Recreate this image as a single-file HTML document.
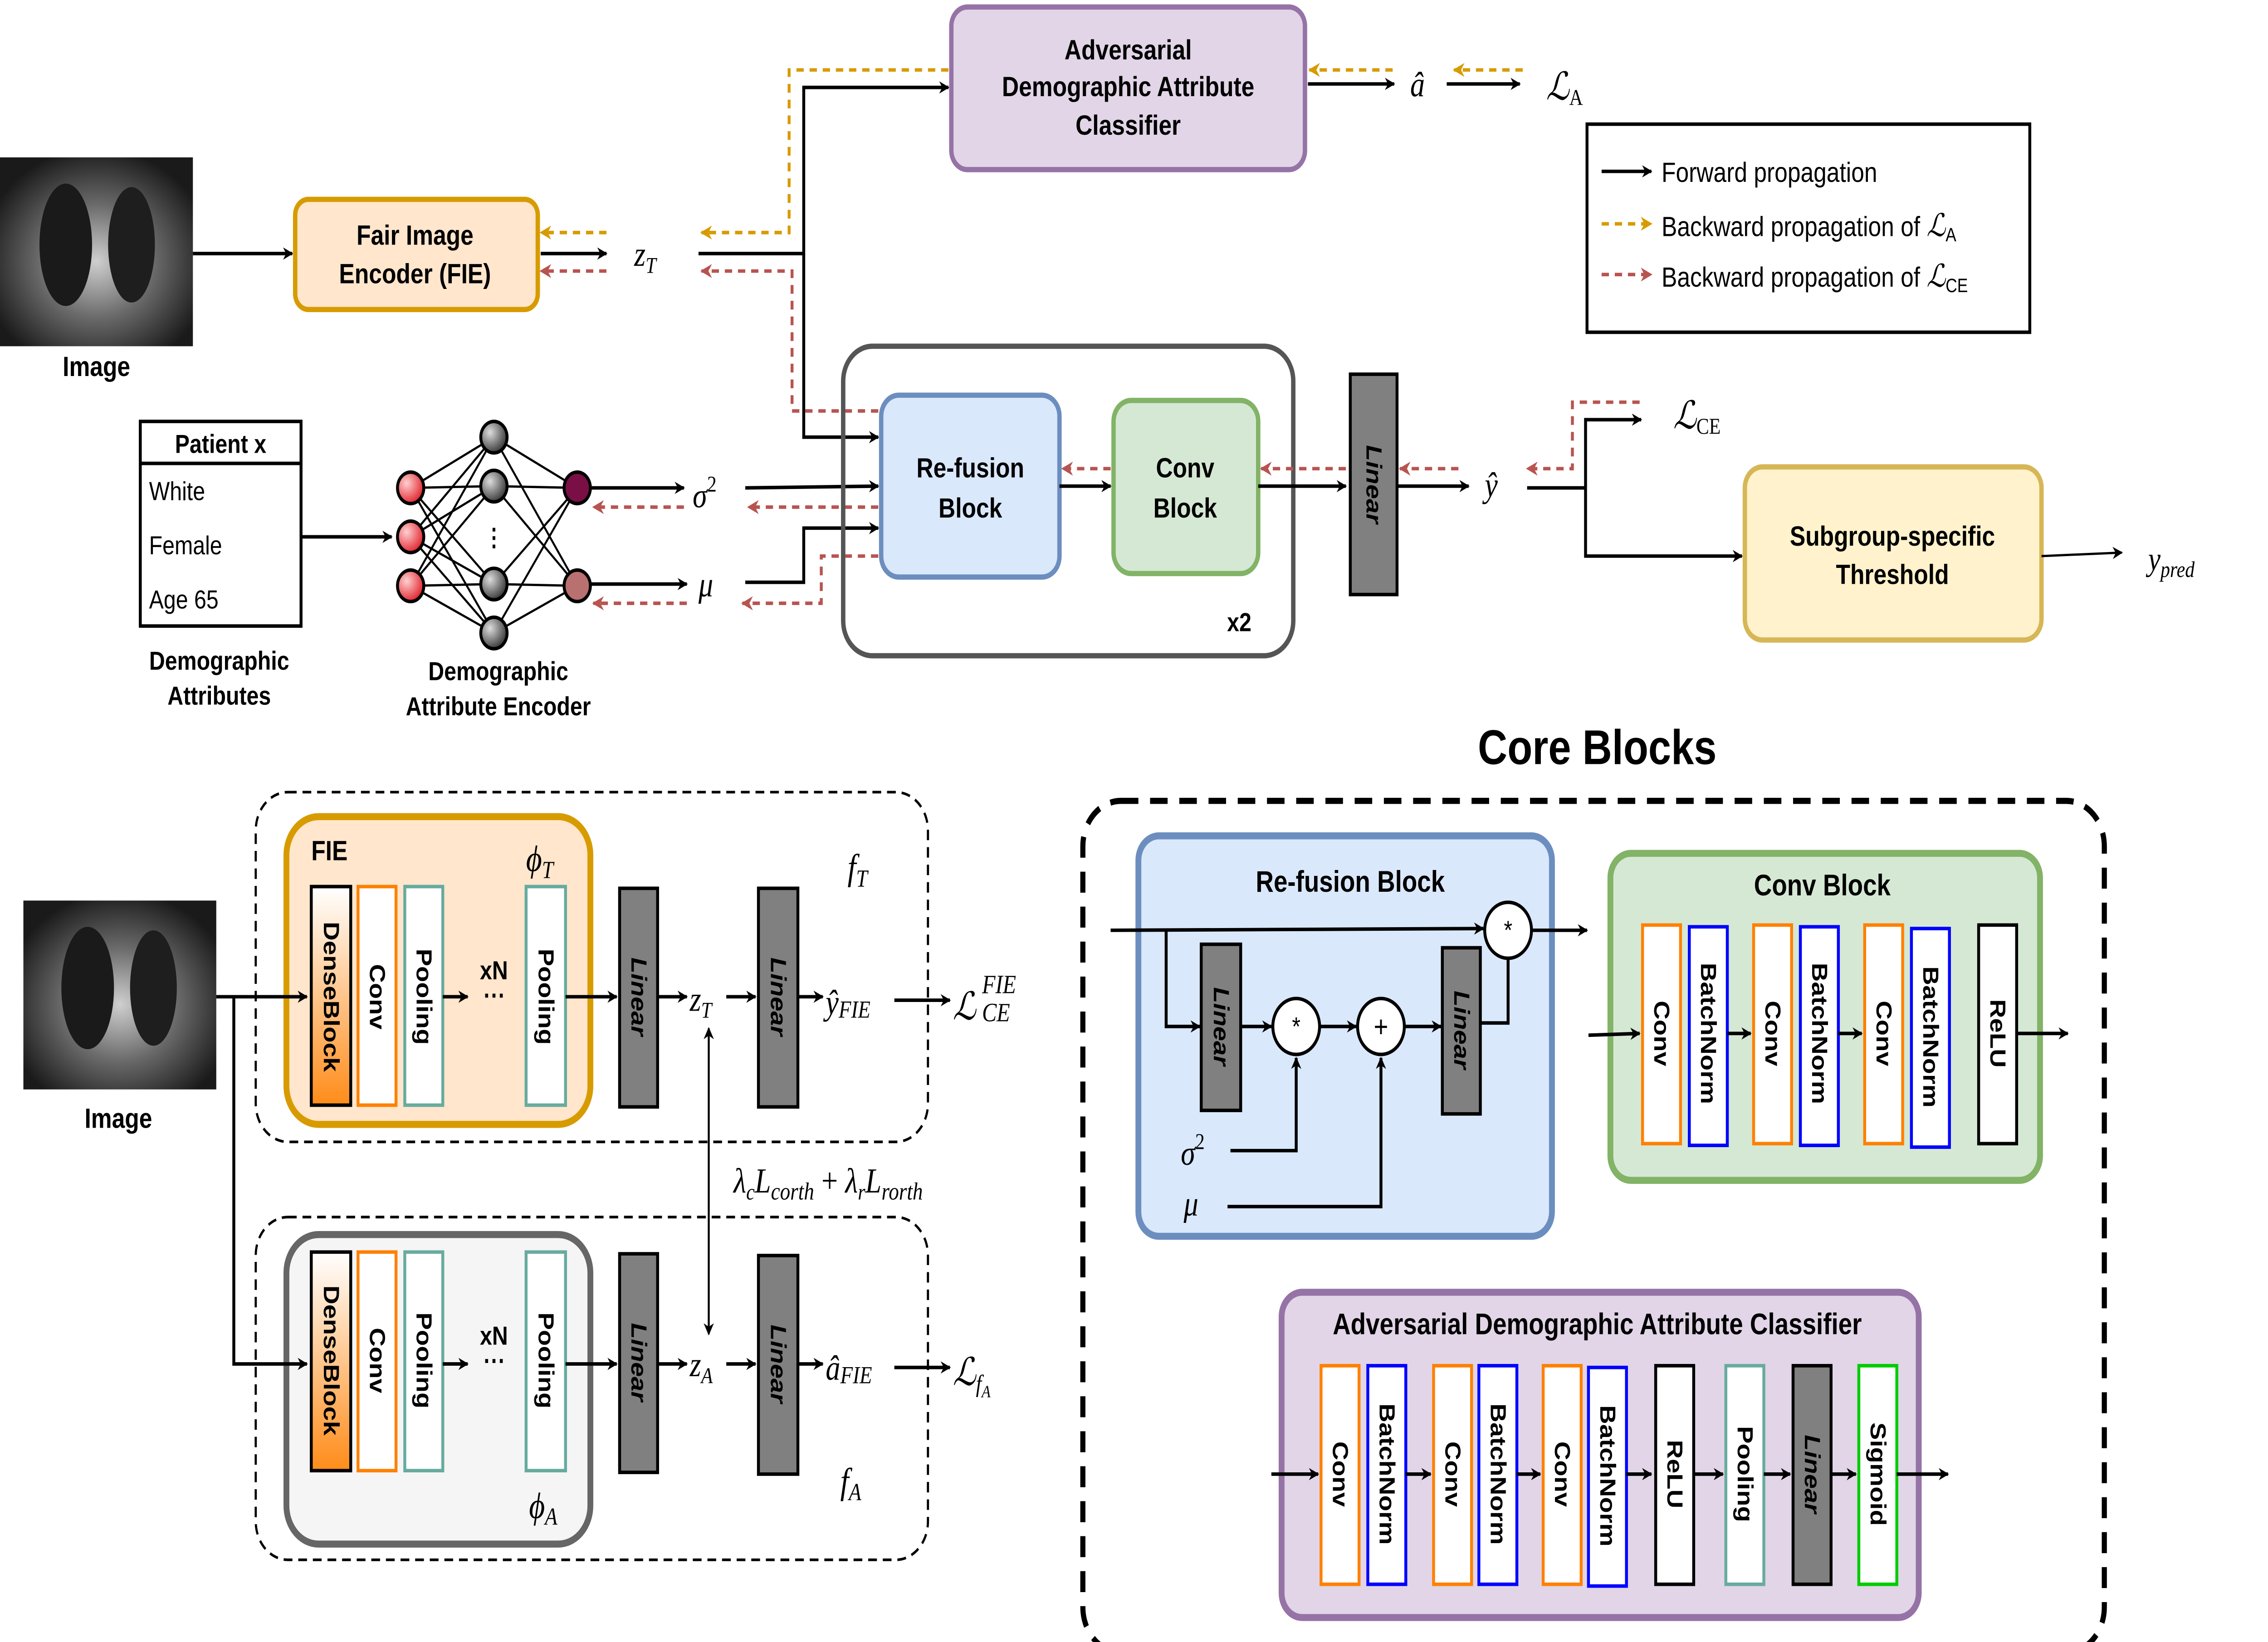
<!DOCTYPE html>
<html><head><meta charset="utf-8"><style>
html,body{margin:0;padding:0;background:#fff;width:100%;height:100%;overflow:hidden}
svg{display:block;width:100vw;height:100vh}
.b{font-family:"Liberation Sans",sans-serif;font-weight:bold;fill:#000}
.n{font-family:"Liberation Sans",sans-serif;fill:#000}
.m{font-family:"Liberation Serif",serif;font-style:italic;fill:#000}
.r{font-family:"Liberation Sans",sans-serif;font-weight:bold;font-size:15px;fill:#000}
</style></head><body>
<svg viewBox="0 0 1552 939" preserveAspectRatio="none" xmlns="http://www.w3.org/2000/svg">
<defs>
<marker id="ak" viewBox="0 0 10 10" refX="9" refY="5" markerWidth="7" markerHeight="7" orient="auto" markerUnits="userSpaceOnUse"><path d="M0,0 L10,5 L0,10 L3,5z" fill="#000"/></marker>
<marker id="ao" viewBox="0 0 10 10" refX="9" refY="5" markerWidth="8" markerHeight="8" orient="auto" markerUnits="userSpaceOnUse"><path d="M0,0 L10,5 L0,10 L3,5z" fill="#d79b00"/></marker>
<marker id="ar" viewBox="0 0 10 10" refX="9" refY="5" markerWidth="8" markerHeight="8" orient="auto" markerUnits="userSpaceOnUse"><path d="M0,0 L10,5 L0,10 L3,5z" fill="#b85450"/></marker>
<radialGradient id="xr" cx="50%" cy="55%" r="60%"><stop offset="0" stop-color="#cfcfcf"/><stop offset="0.5" stop-color="#6a6a6a"/><stop offset="1" stop-color="#1a1a1a"/></radialGradient>
<linearGradient id="db" x1="0" y1="0" x2="0" y2="1"><stop offset="0" stop-color="#fff"/><stop offset="1" stop-color="#ff8c1a"/></linearGradient>
<radialGradient id="rn" cx="35%" cy="35%" r="70%"><stop offset="0" stop-color="#ffd0d0"/><stop offset="1" stop-color="#e0202a"/></radialGradient>
<radialGradient id="gn" cx="35%" cy="35%" r="70%"><stop offset="0" stop-color="#ddd"/><stop offset="1" stop-color="#333"/></radialGradient>
</defs>
<g stroke-width="2" fill="none">

<!-- X-ray top -->
<rect x="0" y="90" width="132" height="108" fill="url(#xr)" stroke="none"/>
<ellipse cx="45" cy="140" rx="18" ry="35" fill="#1a1a1a" stroke="none"/>
<ellipse cx="90" cy="140" rx="16" ry="33" fill="#1e1e1e" stroke="none"/>
<text x="66" y="215" class="b" font-size="16" text-anchor="middle" stroke="none">Image</text>
<path d="M132,145 L200,145" stroke="#000" marker-end="url(#ak)"/>

<!-- FIE -->
<rect x="202" y="114" width="166" height="63" rx="9" fill="#ffe6cc" stroke="#d79b00" stroke-width="3"/>
<text x="284" y="140" class="b" font-size="16" text-anchor="middle" stroke="none">Fair Image</text>
<text x="284" y="162" class="b" font-size="16" text-anchor="middle" stroke="none">Encoder (FIE)</text>
<path d="M370,145 L415,145" stroke="#000" marker-end="url(#ak)"/>
<path d="M415,133 L370,133" stroke="#d79b00" stroke-dasharray="5,4" marker-end="url(#ao)"/>
<path d="M415,155 L370,155" stroke="#b85450" stroke-dasharray="5,4" marker-end="url(#ar)"/>
<text x="434" y="152" class="m" font-size="20" stroke="none">z<tspan font-size="13" dy="4">T</tspan></text>

<path d="M478,145 L550,145 L550,50 L649,50" stroke="#000" marker-end="url(#ak)"/>
<path d="M550,145 L550,250 L601,250" stroke="#000" marker-end="url(#ak)"/>
<path d="M649,40 L540,40 L540,133 L480,133" stroke="#d79b00" stroke-dasharray="5,4" marker-end="url(#ao)"/>
<path d="M601,235 L542,235 L542,155 L480,155" stroke="#b85450" stroke-dasharray="5,4" marker-end="url(#ar)"/>

<!-- Adversarial -->
<rect x="651" y="4" width="242" height="93" rx="11" fill="#e1d5e7" stroke="#9673a6" stroke-width="3"/>
<text x="772" y="34" class="b" font-size="16" text-anchor="middle" stroke="none">Adversarial</text>
<text x="772" y="55" class="b" font-size="16" text-anchor="middle" stroke="none">Demographic Attribute</text>
<text x="772" y="77" class="b" font-size="16" text-anchor="middle" stroke="none">Classifier</text>
<path d="M895,48 L954,48" stroke="#000" marker-end="url(#ak)"/>
<path d="M953,40 L896,40" stroke="#d79b00" stroke-dasharray="5,4" marker-end="url(#ao)"/>
<text x="965" y="55" class="m" font-size="20" stroke="none">â</text>
<path d="M990,48 L1040,48" stroke="#000" marker-end="url(#ak)"/>
<path d="M1042,40 L995,40" stroke="#d79b00" stroke-dasharray="5,4" marker-end="url(#ao)"/>
<text x="1058" y="57" class="m" font-size="22" stroke="none">ℒ<tspan font-style="normal" font-size="13" dy="3">A</tspan></text>

<!-- Legend -->
<rect x="1086" y="71" width="303" height="119" fill="#fff" stroke="#000"/>
<path d="M1096,98 L1130,98" stroke="#000" marker-end="url(#ak)"/>
<text x="1137" y="104" class="n" font-size="16" stroke="none">Forward propagation</text>
<path d="M1096,128 L1130,128" stroke="#d79b00" stroke-dasharray="5,4" marker-end="url(#ao)"/>
<text x="1137" y="135" class="n" font-size="16" stroke="none">Backward propagation of  <tspan class="m" font-size="18">ℒ</tspan><tspan font-size="11" dy="3">A</tspan></text>
<path d="M1096,157 L1130,157" stroke="#b85450" stroke-dasharray="5,4" marker-end="url(#ar)"/>
<text x="1137" y="164" class="n" font-size="16" stroke="none">Backward propagation of  <tspan class="m" font-size="18">ℒ</tspan><tspan font-size="11" dy="3">CE</tspan></text>

<!-- Patient table -->
<rect x="96" y="241" width="110" height="117" fill="#fff" stroke="#000"/>
<path d="M96,265 L206,265" stroke="#000"/>
<text x="151" y="259" class="b" font-size="15" text-anchor="middle" stroke="none">Patient x</text>
<text x="102" y="286" class="n" font-size="15" stroke="none">White</text>
<text x="102" y="317" class="n" font-size="15" stroke="none">Female</text>
<text x="102" y="348" class="n" font-size="15" stroke="none">Age 65</text>
<text x="150" y="383" class="b" font-size="15" text-anchor="middle" stroke="none">Demographic</text>
<text x="150" y="403" class="b" font-size="15" text-anchor="middle" stroke="none">Attributes</text>
<path d="M206,307 L268,307" stroke="#000" marker-end="url(#ak)"/>

<!-- NN -->
<g stroke="#000" stroke-width="1.3">
<path d="M281,279 L338,250 M281,279 L338,278 M281,279 L338,334 M281,279 L338,362 M281,307 L338,250 M281,307 L338,278 M281,307 L338,334 M281,307 L338,362 M281,335 L338,250 M281,335 L338,278 M281,335 L338,334 M281,335 L338,362"/>
<path d="M338,250 L395,279 M338,278 L395,279 M338,334 L395,279 M338,362 L395,279 M338,250 L395,335 M338,278 L395,335 M338,334 L395,335 M338,362 L395,335"/>
</g>
<circle cx="281" cy="279" r="9" fill="url(#rn)" stroke="#000"/>
<circle cx="281" cy="307" r="9" fill="url(#rn)" stroke="#000"/>
<circle cx="281" cy="335" r="9" fill="url(#rn)" stroke="#000"/>
<circle cx="338" cy="250" r="9" fill="url(#gn)" stroke="#000"/>
<circle cx="338" cy="278" r="9" fill="url(#gn)" stroke="#000"/>
<circle cx="338" cy="334" r="9" fill="url(#gn)" stroke="#000"/>
<circle cx="338" cy="362" r="9" fill="url(#gn)" stroke="#000"/>
<text x="338" y="312" class="b" font-size="14" text-anchor="middle" stroke="none">⋮</text>
<circle cx="395" cy="279" r="9" fill="#7a0f45" stroke="#000"/>
<circle cx="395" cy="335" r="9" fill="#b87070" stroke="#000"/>
<text x="341" y="389" class="b" font-size="15" text-anchor="middle" stroke="none">Demographic</text>
<text x="341" y="409" class="b" font-size="15" text-anchor="middle" stroke="none">Attribute Encoder</text>
<path d="M404,279 L468,279" stroke="#000" marker-end="url(#ak)"/>
<path d="M468,290 L406,290" stroke="#b85450" stroke-dasharray="5,4" marker-end="url(#ar)"/>
<path d="M404,334 L470,334" stroke="#000" marker-end="url(#ak)"/>
<path d="M470,345 L406,345" stroke="#b85450" stroke-dasharray="5,4" marker-end="url(#ar)"/>
<text x="474" y="290" class="m" font-size="20" stroke="none">σ<tspan font-style="normal" font-size="13" dy="-9">2</tspan></text>
<text x="478" y="341" class="m" font-size="20" stroke="none">μ</text>
<path d="M510,279 L601,278" stroke="#000" marker-end="url(#ak)"/>
<path d="M601,290 L512,290" stroke="#b85450" stroke-dasharray="5,4" marker-end="url(#ar)"/>
<path d="M510,333 L550,333 L550,302 L601,302" stroke="#000" marker-end="url(#ak)"/>
<path d="M601,318 L562,318 L562,345 L508,345" stroke="#b85450" stroke-dasharray="5,4" marker-end="url(#ar)"/>

<!-- x2 container -->
<rect x="577" y="198" width="308" height="177" rx="20" stroke="#555" stroke-width="3"/>
<text x="848" y="361" class="b" font-size="15" text-anchor="middle" stroke="none">x2</text>
<rect x="603" y="226" width="122" height="104" rx="12" fill="#dae8fc" stroke="#6c8ebf" stroke-width="3"/>
<text x="664" y="273" class="b" font-size="16" text-anchor="middle" stroke="none">Re-fusion</text>
<text x="664" y="296" class="b" font-size="16" text-anchor="middle" stroke="none">Block</text>
<rect x="762" y="229" width="99" height="99" rx="12" fill="#d5e8d4" stroke="#82b366" stroke-width="3"/>
<text x="811" y="273" class="b" font-size="16" text-anchor="middle" stroke="none">Conv</text>
<text x="811" y="296" class="b" font-size="16" text-anchor="middle" stroke="none">Block</text>
<path d="M725,278 L760,278" stroke="#000" marker-end="url(#ak)"/>
<path d="M760,268 L727,268" stroke="#b85450" stroke-dasharray="5,4" marker-end="url(#ar)"/>
<path d="M861,278 L921,278" stroke="#000" marker-end="url(#ak)"/>
<path d="M921,268 L863,268" stroke="#b85450" stroke-dasharray="5,4" marker-end="url(#ar)"/>
<rect x="924" y="214" width="32" height="126" fill="#808080" stroke="#000"/>
<text transform="translate(940,277) rotate(90)" class="r" font-style="italic" text-anchor="middle" dominant-baseline="central" stroke="none">Linear</text>
<path d="M956,278 L1005,278" stroke="#000" marker-end="url(#ak)"/>
<path d="M998,268 L958,268" stroke="#b85450" stroke-dasharray="5,4" marker-end="url(#ar)"/>
<text x="1016" y="284" class="m" font-size="20" stroke="none">ŷ</text>
<path d="M1045,279 L1085,279" stroke="#000"/>
<path d="M1085,279 L1085,240 L1123,240" stroke="#000" marker-end="url(#ak)"/>
<path d="M1085,279 L1085,318 L1192,318" stroke="#000" marker-end="url(#ak)"/>
<path d="M1122,230 L1076,230 L1076,268 L1045,268" stroke="#b85450" stroke-dasharray="5,4" marker-end="url(#ar)"/>
<text x="1145" y="245" class="m" font-size="22" stroke="none">ℒ<tspan font-style="normal" font-size="13" dy="3">CE</tspan></text>
<rect x="1194" y="267" width="203" height="99" rx="12" fill="#fff2cc" stroke="#d6b656" stroke-width="3"/>
<text x="1295" y="312" class="b" font-size="16" text-anchor="middle" stroke="none">Subgroup-specific</text>
<text x="1295" y="334" class="b" font-size="16" text-anchor="middle" stroke="none">Threshold</text>
<path d="M1397,318 L1452,316" stroke="#000" stroke-width="1.3" marker-end="url(#ak)"/>
<text x="1470" y="326" class="m" font-size="19" stroke="none">y<tspan font-size="13" dy="4">pred</tspan></text>

<!-- Bottom-left -->
<rect x="16" y="515" width="132" height="108" fill="url(#xr)" stroke="none"/>
<ellipse cx="60" cy="565" rx="18" ry="35" fill="#1a1a1a" stroke="none"/>
<ellipse cx="105" cy="565" rx="16" ry="33" fill="#1e1e1e" stroke="none"/>
<text x="81" y="645" class="b" font-size="16" text-anchor="middle" stroke="none">Image</text>
<rect x="175" y="453" width="460" height="200" rx="22" stroke="#000" stroke-width="1.5" stroke-dasharray="6,4"/>
<rect x="175" y="696" width="460" height="196" rx="22" stroke="#000" stroke-width="1.5" stroke-dasharray="6,4"/>
<rect x="196" y="467" width="208" height="176" rx="22" fill="#ffe6cc" stroke="#d79b00" stroke-width="4"/>
<rect x="196" y="706" width="208" height="177" rx="22" fill="#f5f5f5" stroke="#666" stroke-width="4"/>
<text x="213" y="492" class="b" font-size="16" stroke="none">FIE</text>
<text x="360" y="498" class="m" font-size="21" stroke="none">ϕ<tspan font-size="14" dy="4">T</tspan></text>
<text x="362" y="868" class="m" font-size="21" stroke="none">ϕ<tspan font-size="14" dy="4">A</tspan></text>
<text x="580" y="503" class="m" font-size="21" stroke="none">f<tspan font-size="14" dy="4">T</tspan></text>
<text x="575" y="854" class="m" font-size="21" stroke="none">f<tspan font-size="14" dy="4">A</tspan></text>
<path d="M148,570 L210,570" stroke="#000" marker-end="url(#ak)"/>
<path d="M160,570 L160,780 L210,780" stroke="#000" marker-end="url(#ak)"/>

<!-- top chain -->
<rect x="213" y="507" width="27" height="125" fill="url(#db)" stroke="#000"/>
<text transform="translate(226.5,570) rotate(90)" class="r" text-anchor="middle" dominant-baseline="central" stroke="none">DenseBlock</text>
<rect x="245" y="507" width="26" height="125" fill="#fff" stroke="#ff8000"/>
<text transform="translate(258,570) rotate(90)" class="r" text-anchor="middle" dominant-baseline="central" stroke="none">Conv</text>
<rect x="277" y="507" width="26" height="125" fill="#fff" stroke="#67ab9f"/>
<text transform="translate(290,570) rotate(90)" class="r" text-anchor="middle" dominant-baseline="central" stroke="none">Pooling</text>
<path d="M303,570 L320,570" stroke="#000" marker-end="url(#ak)"/>
<text x="338" y="560" class="b" font-size="15" text-anchor="middle" stroke="none">xN</text>
<text x="338" y="574" class="b" font-size="15" text-anchor="middle" stroke="none">⋯</text>
<rect x="360" y="507" width="27" height="125" fill="#fff" stroke="#67ab9f"/>
<text transform="translate(373.5,570) rotate(90)" class="r" text-anchor="middle" dominant-baseline="central" stroke="none">Pooling</text>
<path d="M387,570 L422,570" stroke="#000" marker-end="url(#ak)"/>
<rect x="424" y="508" width="26" height="125" fill="#808080" stroke="#000"/>
<text transform="translate(437,570) rotate(90)" class="r" font-style="italic" text-anchor="middle" dominant-baseline="central" stroke="none">Linear</text>
<path d="M450,570 L470,570" stroke="#000" marker-end="url(#ak)"/>
<text x="472" y="578" class="m" font-size="20" stroke="none">z<tspan font-size="13" dy="4">T</tspan></text>
<path d="M497,570 L517,570" stroke="#000" marker-end="url(#ak)"/>
<rect x="519" y="508" width="27" height="125" fill="#808080" stroke="#000"/>
<text transform="translate(532.5,570) rotate(90)" class="r" font-style="italic" text-anchor="middle" dominant-baseline="central" stroke="none">Linear</text>
<path d="M546,570 L563,570" stroke="#000" marker-end="url(#ak)"/>
<text x="565" y="580" class="m" font-size="20" stroke="none">ŷ<tspan font-size="14" dy="2">FIE</tspan></text>
<path d="M612,572 L650,572" stroke="#000" marker-end="url(#ak)"/>
<text x="652" y="583" class="m" font-size="22" stroke="none">ℒ</text>
<text x="672" y="568" class="m" font-size="15" stroke="none">FIE</text>
<text x="672" y="584" class="m" font-size="15" stroke="none">CE</text>

<!-- bottom chain -->
<rect x="213" y="716" width="27" height="125" fill="url(#db)" stroke="#000"/>
<text transform="translate(226.5,778) rotate(90)" class="r" text-anchor="middle" dominant-baseline="central" stroke="none">DenseBlock</text>
<rect x="245" y="716" width="26" height="125" fill="#fff" stroke="#ff8000"/>
<text transform="translate(258,778) rotate(90)" class="r" text-anchor="middle" dominant-baseline="central" stroke="none">Conv</text>
<rect x="277" y="716" width="26" height="125" fill="#fff" stroke="#67ab9f"/>
<text transform="translate(290,778) rotate(90)" class="r" text-anchor="middle" dominant-baseline="central" stroke="none">Pooling</text>
<path d="M303,780 L320,780" stroke="#000" marker-end="url(#ak)"/>
<text x="338" y="769" class="b" font-size="15" text-anchor="middle" stroke="none">xN</text>
<text x="338" y="783" class="b" font-size="15" text-anchor="middle" stroke="none">⋯</text>
<rect x="360" y="716" width="27" height="125" fill="#fff" stroke="#67ab9f"/>
<text transform="translate(373.5,778) rotate(90)" class="r" text-anchor="middle" dominant-baseline="central" stroke="none">Pooling</text>
<path d="M387,780 L422,780" stroke="#000" marker-end="url(#ak)"/>
<rect x="424" y="717" width="26" height="125" fill="#808080" stroke="#000"/>
<text transform="translate(437,779) rotate(90)" class="r" font-style="italic" text-anchor="middle" dominant-baseline="central" stroke="none">Linear</text>
<path d="M450,780 L470,780" stroke="#000" marker-end="url(#ak)"/>
<text x="472" y="787" class="m" font-size="20" stroke="none">z<tspan font-size="13" dy="4">A</tspan></text>
<path d="M497,780 L517,780" stroke="#000" marker-end="url(#ak)"/>
<rect x="519" y="718" width="27" height="125" fill="#808080" stroke="#000"/>
<text transform="translate(532.5,780) rotate(90)" class="r" font-style="italic" text-anchor="middle" dominant-baseline="central" stroke="none">Linear</text>
<path d="M546,780 L563,780" stroke="#000" marker-end="url(#ak)"/>
<text x="565" y="789" class="m" font-size="20" stroke="none">â<tspan font-size="14" dy="2">FIE</tspan></text>
<path d="M612,782 L650,782" stroke="#000" marker-end="url(#ak)"/>
<text x="652" y="792" class="m" font-size="22" stroke="none">ℒ<tspan font-size="14" dy="4">f</tspan><tspan font-size="10" dy="3">A</tspan></text>

<path d="M485,760 L485,588" stroke="#000" stroke-width="1.3" marker-end="url(#ak)"/>
<path d="M485,590 L485,763" stroke="#000" stroke-width="1.3" marker-end="url(#ak)"/>
<text x="502" y="682" class="m" font-size="20" stroke="none">λ<tspan font-size="13" dy="4">c</tspan><tspan dy="-4">L</tspan><tspan font-size="14" dy="4">corth</tspan><tspan dy="-4" font-style="normal"> + </tspan>λ<tspan font-size="13" dy="4">r</tspan><tspan dy="-4">L</tspan><tspan font-size="14" dy="4">rorth</tspan></text>

<!-- Core blocks -->
<text x="1093" y="437" class="b" font-size="28" text-anchor="middle" stroke="none">Core Blocks</text>
<rect x="741" y="458" width="699" height="487" rx="26" stroke="#000" stroke-width="3.5" stroke-dasharray="12,8"/>

<rect x="779" y="478" width="283" height="229" rx="14" fill="#dae8fc" stroke="#6c8ebf" stroke-width="4"/>
<text x="924" y="510" class="b" font-size="17" text-anchor="middle" stroke="none">Re-fusion Block</text>
<path d="M760,532 L1015,531" stroke="#000" marker-end="url(#ak)"/>
<circle cx="1032" cy="532" r="16" fill="#fff" stroke="#000"/>
<text x="1032" y="537" class="n" font-size="15" text-anchor="middle" stroke="none">*</text>
<path d="M1048,532 L1086,532" stroke="#000" marker-end="url(#ak)"/>
<path d="M798,532 L798,587 L821,587" stroke="#000" marker-end="url(#ak)"/>
<rect x="822" y="540" width="27" height="95" fill="#808080" stroke="#000"/>
<text transform="translate(835.5,587) rotate(90)" class="r" font-style="italic" text-anchor="middle" dominant-baseline="central" stroke="none">Linear</text>
<path d="M849,587 L870,587" stroke="#000" marker-end="url(#ak)"/>
<circle cx="887" cy="587" r="16" fill="#fff" stroke="#000"/>
<text x="887" y="592" class="n" font-size="15" text-anchor="middle" stroke="none">*</text>
<path d="M903,587 L928,587" stroke="#000" marker-end="url(#ak)"/>
<circle cx="945" cy="587" r="16" fill="#fff" stroke="#000"/>
<text x="945" y="593" class="n" font-size="17" text-anchor="middle" stroke="none">+</text>
<path d="M961,587 L986,587" stroke="#000" marker-end="url(#ak)"/>
<rect x="987" y="542" width="26" height="95" fill="#808080" stroke="#000"/>
<text transform="translate(1000,589) rotate(90)" class="r" font-style="italic" text-anchor="middle" dominant-baseline="central" stroke="none">Linear</text>
<path d="M1013,585 L1032,585 L1032,549" stroke="#000"/>
<text x="808" y="666" class="m" font-size="20" stroke="none">σ<tspan font-style="normal" font-size="13" dy="-9">2</tspan></text>
<path d="M842,658 L887,658 L887,605" stroke="#000" marker-end="url(#ak)"/>
<text x="810" y="695" class="m" font-size="20" stroke="none">μ</text>
<path d="M840,690 L945,690 L945,605" stroke="#000" marker-end="url(#ak)"/>

<rect x="1102" y="488" width="294" height="187" rx="14" fill="#d5e8d4" stroke="#82b366" stroke-width="4"/>
<text x="1247" y="512" class="b" font-size="17" text-anchor="middle" stroke="none">Conv Block</text>
<path d="M1087,592 L1122,591" stroke="#000" marker-end="url(#ak)"/>
<rect x="1124" y="529" width="26" height="125" fill="#fff" stroke="#ff8000"/>
<text transform="translate(1137,591) rotate(90)" class="r" text-anchor="middle" dominant-baseline="central" stroke="none">Conv</text>
<rect x="1156" y="530" width="26" height="125" fill="#fff" stroke="#0000ff"/>
<text transform="translate(1169,591) rotate(90)" class="r" text-anchor="middle" dominant-baseline="central" stroke="none">BatchNorm</text>
<path d="M1182,591 L1198,591" stroke="#000" marker-end="url(#ak)"/>
<rect x="1200" y="529" width="26" height="125" fill="#fff" stroke="#ff8000"/>
<text transform="translate(1213,591) rotate(90)" class="r" text-anchor="middle" dominant-baseline="central" stroke="none">Conv</text>
<rect x="1232" y="530" width="26" height="125" fill="#fff" stroke="#0000ff"/>
<text transform="translate(1245,591) rotate(90)" class="r" text-anchor="middle" dominant-baseline="central" stroke="none">BatchNorm</text>
<path d="M1258,591 L1274,591" stroke="#000" marker-end="url(#ak)"/>
<rect x="1276" y="529" width="26" height="125" fill="#fff" stroke="#ff8000"/>
<text transform="translate(1289,591) rotate(90)" class="r" text-anchor="middle" dominant-baseline="central" stroke="none">Conv</text>
<rect x="1308" y="531" width="26" height="125" fill="#fff" stroke="#0000ff"/>
<text transform="translate(1321,593) rotate(90)" class="r" text-anchor="middle" dominant-baseline="central" stroke="none">BatchNorm</text>
<rect x="1354" y="529" width="26" height="125" fill="#fff" stroke="#000"/>
<text transform="translate(1367,591) rotate(90)" class="r" text-anchor="middle" dominant-baseline="central" stroke="none">ReLU</text>
<path d="M1380,591 L1415,591" stroke="#000" marker-end="url(#ak)"/>

<rect x="877" y="739" width="436" height="186" rx="14" fill="#e1d5e7" stroke="#9673a6" stroke-width="4"/>
<text x="1093" y="763" class="b" font-size="17" text-anchor="middle" stroke="none">Adversarial Demographic Attribute Classifier</text>
<path d="M870,843 L902,843" stroke="#000" marker-end="url(#ak)"/>
<rect x="904" y="781" width="26" height="125" fill="#fff" stroke="#ff8000"/>
<text transform="translate(917,843) rotate(90)" class="r" text-anchor="middle" dominant-baseline="central" stroke="none">Conv</text>
<rect x="936" y="781" width="26" height="125" fill="#fff" stroke="#0000ff"/>
<text transform="translate(949,843) rotate(90)" class="r" text-anchor="middle" dominant-baseline="central" stroke="none">BatchNorm</text>
<path d="M962,843 L979,843" stroke="#000" marker-end="url(#ak)"/>
<rect x="981" y="781" width="26" height="125" fill="#fff" stroke="#ff8000"/>
<text transform="translate(994,843) rotate(90)" class="r" text-anchor="middle" dominant-baseline="central" stroke="none">Conv</text>
<rect x="1012" y="781" width="26" height="125" fill="#fff" stroke="#0000ff"/>
<text transform="translate(1025,843) rotate(90)" class="r" text-anchor="middle" dominant-baseline="central" stroke="none">BatchNorm</text>
<path d="M1038,843 L1054,843" stroke="#000" marker-end="url(#ak)"/>
<rect x="1056" y="781" width="26" height="125" fill="#fff" stroke="#ff8000"/>
<text transform="translate(1069,843) rotate(90)" class="r" text-anchor="middle" dominant-baseline="central" stroke="none">Conv</text>
<rect x="1087" y="782" width="26" height="125" fill="#fff" stroke="#0000ff"/>
<text transform="translate(1100,844) rotate(90)" class="r" text-anchor="middle" dominant-baseline="central" stroke="none">BatchNorm</text>
<path d="M1113,843 L1130,843" stroke="#000" marker-end="url(#ak)"/>
<rect x="1133" y="781" width="26" height="125" fill="#fff" stroke="#000"/>
<text transform="translate(1146,843) rotate(90)" class="r" text-anchor="middle" dominant-baseline="central" stroke="none">ReLU</text>
<path d="M1159,843 L1179,843" stroke="#000" marker-end="url(#ak)"/>
<rect x="1181" y="781" width="26" height="125" fill="#fff" stroke="#67ab9f"/>
<text transform="translate(1194,843) rotate(90)" class="r" text-anchor="middle" dominant-baseline="central" stroke="none">Pooling</text>
<path d="M1207,843 L1225,843" stroke="#000" marker-end="url(#ak)"/>
<rect x="1227" y="781" width="26" height="125" fill="#808080" stroke="#000"/>
<text transform="translate(1240,843) rotate(90)" class="r" font-style="italic" text-anchor="middle" dominant-baseline="central" stroke="none">Linear</text>
<path d="M1253,843 L1270,843" stroke="#000" marker-end="url(#ak)"/>
<rect x="1272" y="781" width="26" height="125" fill="#fff" stroke="#00cc00"/>
<text transform="translate(1285,843) rotate(90)" class="r" text-anchor="middle" dominant-baseline="central" stroke="none">Sigmoid</text>
<path d="M1298,843 L1333,843" stroke="#000" marker-end="url(#ak)"/>
</g>
</svg>
</body></html>
